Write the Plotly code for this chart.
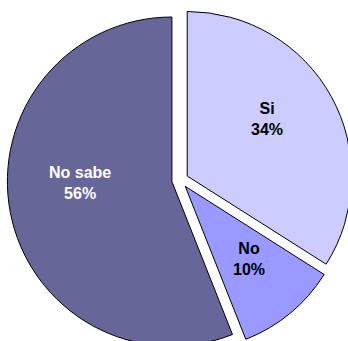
import math
import plotly.graph_objects as go

labels = ["Si", "No", "No sabe"]
values = [34, 10, 56]
colors = ["#CCCCFF", "#9999FF", "#666699"]
text_colors = ["black", "black", "white"]

# styling / placement parameters (not data)
PULL = 0.05
LABEL_RADIUS = [0.597, 0.586, 0.56]   # fraction of radius from slice apex
LABEL_ANGLE_NUDGE = [-7.0, -1.5, 10.0]  # degrees relative to slice bisector

W, H = 360, 360
dom = [0.0201, 0.9799]

fig = go.Figure(go.Pie(
    labels=labels,
    values=values,
    sort=False,
    direction="clockwise",
    rotation=0,
    pull=[PULL] * len(values),
    marker=dict(colors=colors, line=dict(color="black", width=1)),
    textinfo="none",
    showlegend=False,
    hoverinfo="label+percent",
    domain=dict(x=dom, y=dom),
))

# pie geometry as plotly lays it out (margins 0)
box = min(W, H) * (dom[1] - dom[0])
r = box / (2 + 2 * PULL)
cx, cy = W / 2, H / 2
total = sum(values)
cum = 0.0
annotations = []
for i, (lab, v) in enumerate(zip(labels, values)):
    mid = 2 * math.pi * (cum + v / 2) / total
    cum += v
    ax = cx + PULL * r * math.sin(mid)
    ay = cy - PULL * r * math.cos(mid)
    ang = mid + math.radians(LABEL_ANGLE_NUDGE[i])
    px = ax + LABEL_RADIUS[i] * r * math.sin(ang)
    py = ay - LABEL_RADIUS[i] * r * math.cos(ang)
    pct = round(100 * v / total)
    annotations.append(dict(
        x=px / W, y=1 - py / H, xref="paper", yref="paper",
        text=f"{lab}<br>{pct}%", showarrow=False,
        xanchor="center", yanchor="middle", align="center",
        font=dict(family="Liberation Sans, Arial, sans-serif", size=16,
                  color=text_colors[i], weight="bold"),
    ))

fig.update_layout(
    width=W, height=H,
    margin=dict(l=0, r=0, t=0, b=0),
    paper_bgcolor="white",
    plot_bgcolor="white",
    annotations=annotations,
)

fig.write_html("out.html")
